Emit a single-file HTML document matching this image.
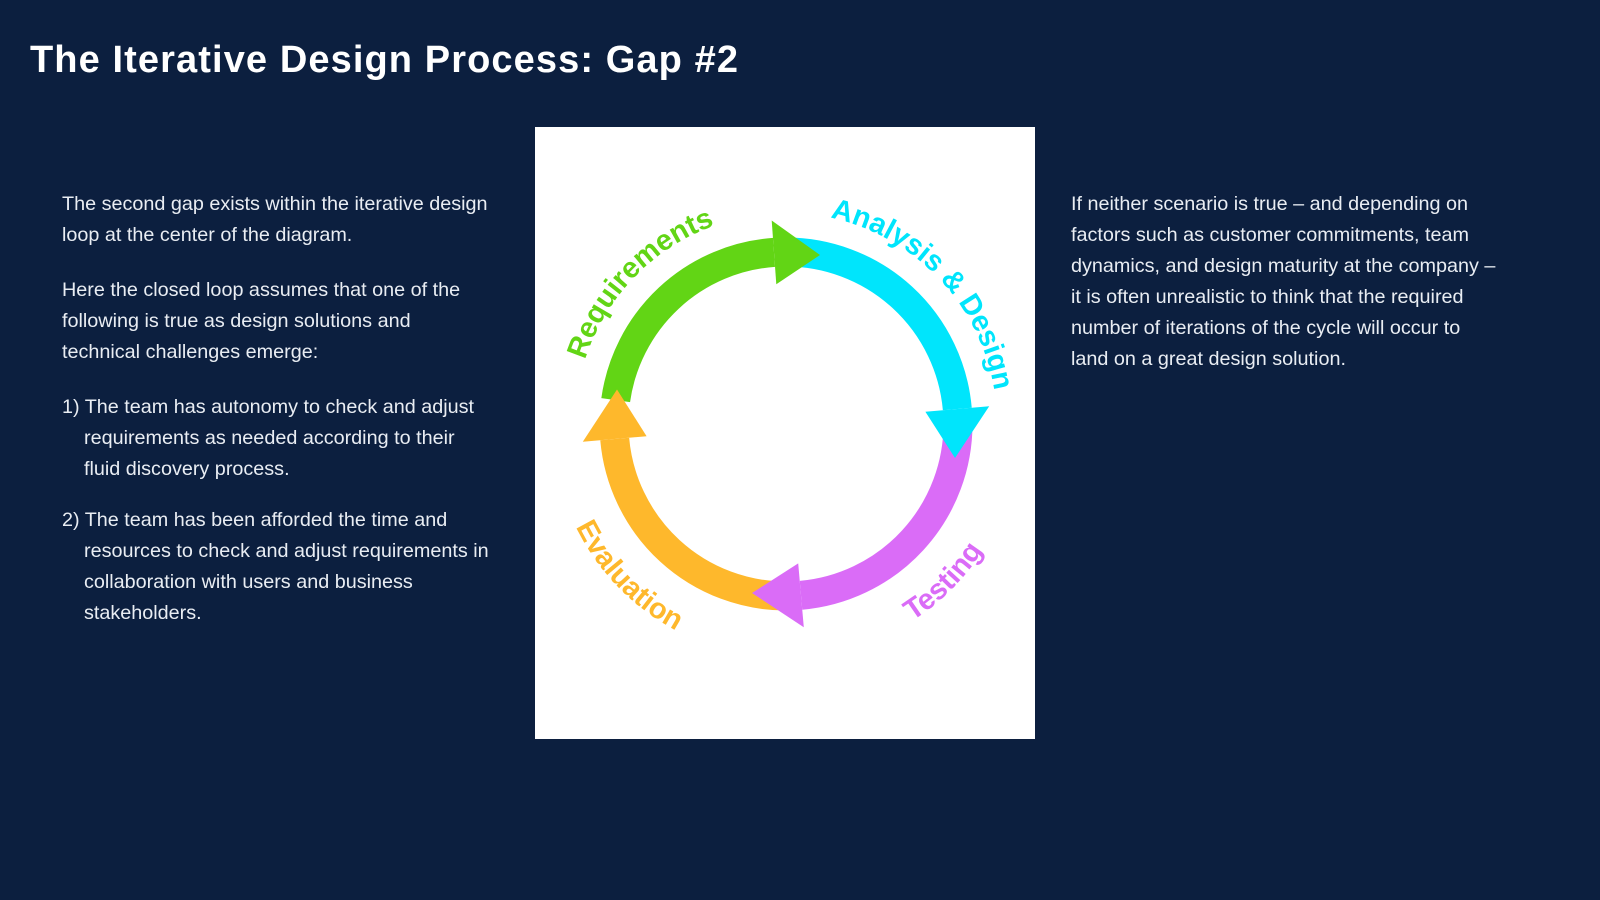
<!DOCTYPE html>
<html><head><meta charset="utf-8">
<style>
html,body{margin:0;padding:0;}
body{width:1600px;height:900px;background:#0c1f3f;position:relative;overflow:hidden;font-family:"Liberation Sans",sans-serif;}
.title{position:absolute;left:30px;top:39px;font-size:38px;font-weight:bold;color:#fff;white-space:nowrap;letter-spacing:1.1px;}
.t{position:absolute;color:#e9edf3;font-size:19.8px;white-space:nowrap;line-height:31px;}
.box{position:absolute;left:535px;top:127px;width:500px;height:612px;background:#fff;}
</style></head><body>
<div class="title">The Iterative Design Process: Gap #2</div>

<div class="t" style="left:62px;top:189px;">The second gap exists within the iterative design<br>loop at the center of the diagram.</div>
<div class="t" style="left:62px;top:275px;">Here the closed loop assumes that one of the<br>following is true as design solutions and<br>technical challenges emerge:</div>
<div class="t" style="left:62px;top:392px;">1) The team has autonomy to check and adjust<br>&nbsp;&nbsp;&nbsp;&nbsp;requirements as needed according to their<br>&nbsp;&nbsp;&nbsp;&nbsp;fluid discovery process.</div>
<div class="t" style="left:62px;top:505px;">2) The team has been afforded the time and<br>&nbsp;&nbsp;&nbsp;&nbsp;resources to check and adjust requirements in<br>&nbsp;&nbsp;&nbsp;&nbsp;collaboration with users and business<br>&nbsp;&nbsp;&nbsp;&nbsp;stakeholders.</div>

<div class="t" style="left:1071px;top:189px;">If neither scenario is true – and depending on<br>factors such as customer commitments, team<br>dynamics, and design maturity at the company –<br>it is often unrealistic to think that the required<br>number of iterations of the cycle will occur to<br>land on a great design solution.</div>

<div class="box"></div>
<svg style="position:absolute;left:0;top:0" width="1600" height="900" viewBox="0 0 1600 900">
<defs>
<path id="pReq" d="M583.2,482.2 A211,211 0 0 1 837.0,219.3"/>
<path id="pAD" d="M736.8,218.8 A211,211 0 0 1 988.3,483.9"/>
<path id="pTe" d="M725.4,650.0 A234,234 0 0 0 1012.0,363.4"/>
<path id="pEv" d="M561.1,359.5 A234,234 0 0 0 842.6,651.1"/>
</defs>
<g fill="none" stroke-width="29">
<path d="M615.7,400.1 A172,172 0 0 1 774.0,252.4" stroke="#62d515"/>
<path d="M786,252 A172,172 0 0 1 957.3,409.0" stroke="#00e5fc"/>
<path d="M958,424 A172,172 0 0 1 801,595.3" stroke="#da6cf7"/>
<path d="M786,596 A172,172 0 0 1 614.7,439.0" stroke="#feb82c"/>
</g>
<polygon points="771.7,220.5 776.3,284.3 820,255" fill="#62d515"/>
<polygon points="989.2,406.2 925.4,411.8 955,458" fill="#00e5fc"/>
<polygon points="803.8,627.2 798.2,563.4 752,593" fill="#da6cf7"/>
<polygon points="582.8,441.8 646.6,436.2 617,389.5" fill="#feb82c"/>
<g font-family="Liberation Sans, sans-serif" font-weight="bold" font-size="29" text-anchor="middle">
<text fill="#62d515"><textPath href="#pReq" startOffset="50%">Requirements</textPath></text>
<text fill="#00e5fc"><textPath href="#pAD" startOffset="50%">Analysis &amp; Design</textPath></text>
<text fill="#da6cf7"><textPath href="#pTe" startOffset="50%">Testing</textPath></text>
<text fill="#feb82c"><textPath href="#pEv" startOffset="50%">Evaluation</textPath></text>
</g>
</svg>
</body></html>
